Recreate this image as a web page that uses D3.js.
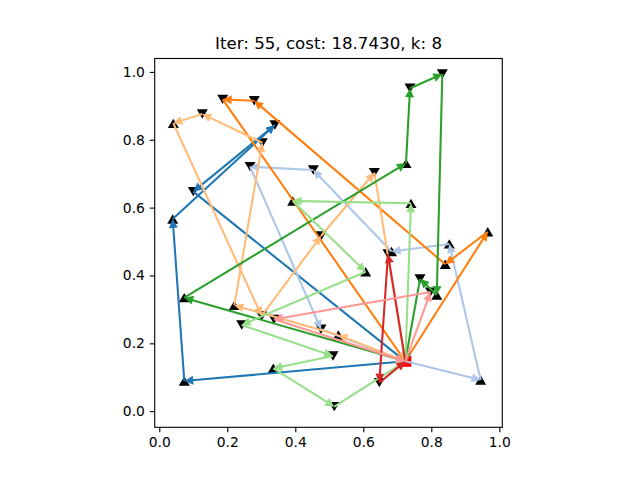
<!DOCTYPE html>
<html>
<head>
<meta charset="utf-8">
<script src="https://cdn.jsdelivr.net/npm/d3@7"></script>
<style>
html, body { margin: 0; padding: 0; background: #fff; }
svg { display: block; }
text { font-family: "DejaVu Sans", sans-serif; fill: #000; }
</style>
</head>
<body>
<svg id="chart" width="640" height="480"></svg>
<script>
// customers: id, x, y, marker (1 = up, -1 = down)
var depot = [0.7235, 0.147];
var ids     = ["a","b","c","d","e","f","g","h","i","j","k","l","m","n","o","p","q","r","s","t","u","v","w","A","B","C","D","E","F","G","H","I","J","K","L","M","N","O","P"];
var xs      = [0.0735,0.0394,0.340,0.100,0.945,0.853,0.683,0.453,0.267,0.4756,0.966,0.841,0.2794,0.1865,0.5265,0.2206,0.303,0.1265,0.0412,0.301,0.4756,0.6324,0.0735,0.7256,0.7374,0.8324,0.816,0.7668,0.7403,0.3924,0.607,0.2424,0.5108,0.3353,0.5147,0.647,0.7976,0.3374,0.6726];
var ys      = [0.089,0.5665,0.8435,0.647,0.092,0.493,0.4707,0.711,0.7206,0.2414,0.529,0.433,0.915,0.919,0.2246,0.312,0.791,0.876,0.8485,0.2806,0.5164,0.703,0.3345,0.7306,0.9517,0.9938,0.3425,0.3896,0.6127,0.6195,0.411,0.254,0.1627,0.1264,0.0133,0.084,0.351,0.2708,0.4633];
var markers = [1,1,-1,-1,1,1,1,-1,-1,-1,1,1,-1,-1,1,1,-1,-1,1,-1,-1,-1,1,1,-1,-1,1,-1,1,1,1,-1,-1,1,-1,-1,-1,-1,-1];

var routes = [
  ["a","b","c","d"],
  ["e","f","g","h","i","j"],
  ["k","l","m","n"],
  ["o","p","q","r","s","t","u","v"],
  ["w","A","B","C","D","E"],
  ["F","G","H","I","J","K","L"],
  ["P","M"],
  ["N","O"]
];
var colors = ["#1f77b4","#aec7e8","#ff7f0e","#ffbb78","#2ca02c","#98df8a","#d62728","#ff9896"];

var titleText = "Iter: 55, cost: 18.7430, k: 8";
var ticks = [0, 0.2, 0.4, 0.6, 0.8, 1.0];

var box = {left: 154.7, right: 502.3, top: 58.5, bottom: 427.3};

var svg = d3.select("#chart");

var x = d3.scaleLinear().domain([-0.0135, 1.0088]).range([box.left, box.right]);
var y = d3.scaleLinear().domain([-0.0475, 1.0395]).range([box.bottom, box.top]);

function coord(id) {
  var i = ids.indexOf(id);
  return [x(xs[i]), y(ys[i])];
}

// matplotlib style triangles
var triUp = { draw: function(c, s) { var r = Math.sqrt(s) / 2; c.moveTo(0, -r * 0.85); c.lineTo(-r, r * 0.85); c.lineTo(r, r * 0.85); c.closePath(); } };
var triDown = { draw: function(c, s) { var r = Math.sqrt(s) / 2; c.moveTo(0, r * 0.85); c.lineTo(-r, -r * 0.85); c.lineTo(r, -r * 0.85); c.closePath(); } };
var sym = d3.symbol().size(121);

var g = svg.append("g");

ids.forEach(function(id, i) {
  g.append("path")
    .attr("d", sym.type(markers[i] > 0 ? triUp : triDown)())
    .attr("transform", "translate(" + x(xs[i]) + "," + y(ys[i]) + ")")
    .attr("fill", "#000");
});

g.append("rect")
  .attr("x", x(depot[0]) - 6)
  .attr("y", y(depot[1]) - 5.5)
  .attr("width", 12)
  .attr("height", 11)
  .attr("fill", "#ff0000");

// same head as arrowstyle -|> with lw 1.5: small polygon, thick mitered stroke
function arrow(p0, p1, color) {
  var dx = p1[0] - p0[0], dy = p1[1] - p0[1];
  var len = Math.sqrt(dx * dx + dy * dy);
  var ux = dx / len, uy = dy / len;
  var tipGap = 2.3, headLen = 5.6, headW = 2.8;
  var tx = p1[0] - ux * tipGap, ty = p1[1] - uy * tipGap;
  var bx = tx - ux * headLen, by = ty - uy * headLen;
  g.append("line")
    .attr("x1", p0[0]).attr("y1", p0[1]).attr("x2", bx).attr("y2", by)
    .attr("stroke", color).attr("stroke-width", 2.08);
  g.append("path")
    .attr("d", "M" + tx + "," + ty + "L" + (bx - uy * headW) + "," + (by + ux * headW) + "L" + (bx + uy * headW) + "," + (by - ux * headW) + "Z")
    .attr("fill", color).attr("stroke", color).attr("stroke-width", 2.08).attr("stroke-linejoin", "miter");
}

var depotPx = [x(depot[0]), y(depot[1])];
routes.forEach(function(route, k) {
  var pts = [depotPx].concat(route.map(coord)).concat([depotPx]);
  for (var i = 0; i < pts.length - 1; i++) {
    arrow(pts[i], pts[i + 1], colors[k]);
  }
});

// axes frame
svg.append("rect")
  .attr("x", box.left).attr("y", box.top)
  .attr("width", box.right - box.left).attr("height", box.bottom - box.top)
  .attr("fill", "none").attr("stroke", "#000").attr("stroke-width", 1.1);

var xAxis = svg.append("g")
  .attr("transform", "translate(0," + box.bottom + ")")
  .call(d3.axisBottom(x).tickValues(ticks).tickFormat(d3.format(".1f")).tickSize(4.9).tickPadding(4.9));
var yAxis = svg.append("g")
  .attr("transform", "translate(" + box.left + ",0)")
  .call(d3.axisLeft(y).tickValues(ticks).tickFormat(d3.format(".1f")).tickSize(4.9).tickPadding(4.9));

[xAxis, yAxis].forEach(function(a) {
  a.select(".domain").remove();
  a.selectAll("line").attr("stroke", "#000").attr("stroke-width", 1.1);
  a.selectAll("text").style("font-family", '"DejaVu Sans"').style("font-size", "13.89px").attr("fill", "#000");
});

svg.append("text")
  .attr("x", (box.left + box.right) / 2)
  .attr("y", 49)
  .attr("text-anchor", "middle")
  .style("font-size", "16.67px")
  .text(titleText);
</script>
</body>
</html>
